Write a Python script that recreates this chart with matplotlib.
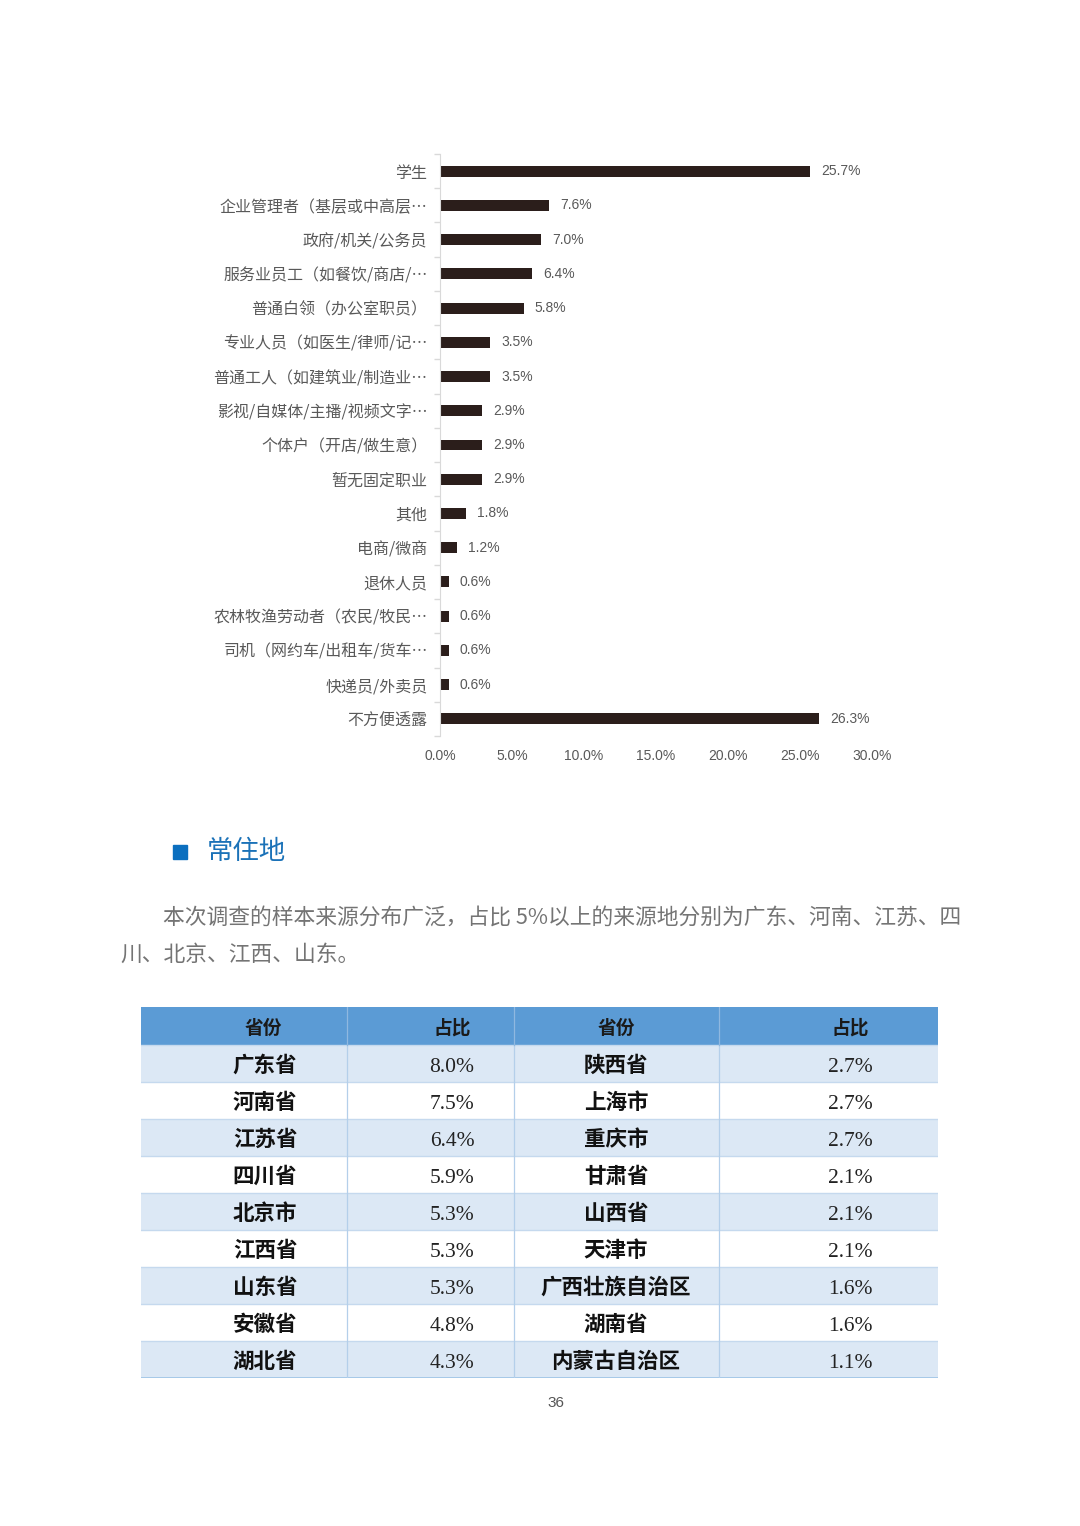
"""
Survey page: occupation bar chart + residence section with province table.
"""
import matplotlib
matplotlib.use("Agg")
import matplotlib.pyplot as plt
from matplotlib.patches import Rectangle
import numpy as np

plt.rcParams["font.family"] = ["Noto Sans CJK SC", "DejaVu Sans"]

# --------------------------------------------------------------------------- #
# Data
# --------------------------------------------------------------------------- #
occupations = [
    "学生",
    "企业管理者（基层或中高层…",
    "政府/机关/公务员",
    "服务业员工（如餐饮/商店/…",
    "普通白领（办公室职员）",
    "专业人员（如医生/律师/记…",
    "普通工人（如建筑业/制造业…",
    "影视/自媒体/主播/视频文字…",
    "个体户（开店/做生意）",
    "暂无固定职业",
    "其他",
    "电商/微商",
    "退休人员",
    "农林牧渔劳动者（农民/牧民…",
    "司机（网约车/出租车/货车…",
    "快递员/外卖员",
    "不方便透露",
]
occupation_share = [25.7, 7.6, 7.0, 6.4, 5.8, 3.5, 3.5, 2.9, 2.9, 2.9,
                    1.8, 1.2, 0.6, 0.6, 0.6, 0.6, 26.3]
x_ticks = [0, 5, 10, 15, 20, 25, 30]

heading = "常住地"
paragraph_lines = [
    "本次调查的样本来源分布广泛，占比 5%以上的来源地分别为广东、河南、江苏、四",
    "川、北京、江西、山东。",
]

table_header = ["省份", "占比", "省份", "占比"]
left_provinces = ["广东省", "河南省", "江苏省", "四川省", "北京市",
                  "江西省", "山东省", "安徽省", "湖北省"]
left_share = [8.0, 7.5, 6.4, 5.9, 5.3, 5.3, 5.3, 4.8, 4.3]
right_provinces = ["陕西省", "上海市", "重庆市", "甘肃省", "山西省",
                   "天津市", "广西壮族自治区", "湖南省", "内蒙古自治区"]
right_share = [2.7, 2.7, 2.7, 2.1, 2.1, 2.1, 1.6, 1.6, 1.1]
page_number = "36"

# --------------------------------------------------------------------------- #
# Layout helpers (pixel -> figure fraction)
# --------------------------------------------------------------------------- #
W, H = 1080, 1526
fig = plt.figure(figsize=(W / 100, H / 100), dpi=100)
fig.patch.set_facecolor("white")


def box(x0, y0, x1, y1):
    return [x0 / W, 1 - y1 / H, (x1 - x0) / W, (y1 - y0) / H]


def fx(x):
    return x / W


def fy(y):
    return 1 - y / H


GREY = "#595959"
NARROW = ["Liberation Sans Narrow", "Liberation Sans", "DejaVu Sans"]

# --------------------------------------------------------------------------- #
# Bar chart
# --------------------------------------------------------------------------- #
ax = fig.add_axes(box(440, 154, 872, 736))
ypos = np.arange(len(occupations))
ax.barh(ypos, occupation_share, height=0.32, color="#2b1e1b")
for y, v in zip(ypos, occupation_share):
    ax.annotate(f"{v:.1f}%", xy=(v, y), xytext=(8, 0), textcoords="offset points",
                va="center", ha="left", fontsize=10, color=GREY, family=NARROW)

ax.set_xlim(0, 30)
ax.set_ylim(len(occupations) - 0.5, -0.5)
ax.set_yticks(ypos)
ax.set_yticklabels(occupations, fontsize=11.5, color=GREY)
ax.set_yticks(np.arange(-0.5, len(occupations) + 0.5, 1), minor=True)
ax.tick_params(axis="y", which="major", length=0, pad=9)
ax.tick_params(axis="y", which="minor", length=4, color="#d9d9d9", width=1)
ax.set_xticks(x_ticks)
ax.set_xticklabels([f"{t:.1f}%" for t in x_ticks], family=NARROW,
                   fontsize=10, color=GREY)
ax.tick_params(axis="x", length=0, pad=9)
for s in ("top", "right", "bottom"):
    ax.spines[s].set_visible(False)
ax.spines["left"].set_color("#d9d9d9")

# --------------------------------------------------------------------------- #
# Heading + paragraph
# --------------------------------------------------------------------------- #
fig.patches.append(Rectangle((fx(173), fy(859)), 14 / W, 14 / H,
                             transform=fig.transFigure, color="#0b6fbf"))
fig.text(fx(207), fy(852), heading, fontsize=19, color="#1b72b8",
         va="center", ha="left")
fig.text(fx(163), fy(918), paragraph_lines[0], fontsize=15.7, color="#747474",
         va="center", ha="left")
fig.text(fx(120), fy(955), paragraph_lines[1], fontsize=15.7, color="#747474",
         va="center", ha="left")

# --------------------------------------------------------------------------- #
# Table
# --------------------------------------------------------------------------- #
tx0, tx1, ty0, ty1 = 141, 938, 1007, 1378
tax = fig.add_axes(box(tx0, ty0, tx1, ty1))
tax.set_xlim(0, tx1 - tx0)
tax.set_ylim(ty1 - ty0, 0)
tax.axis("off")

col_edges = [0, 206, 373, 578, 797]
header_h = 38
row_h = (ty1 - ty0 - header_h) / len(left_provinces)

tax.add_patch(Rectangle((0, 0), col_edges[-1], header_h, color="#5b9bd5", lw=0))
text_x = [122, 311, 475, 709]
for x, lab in zip(text_x, table_header):
    tax.text(x, header_h / 2 + 2, lab, ha="center", va="center", fontsize=13.5,
             fontweight="bold", color="#1a1a1a")

rows = list(zip(left_provinces, left_share, right_provinces, right_share))
for i, (lp, ls, rp, rs) in enumerate(rows):
    y0 = header_h + i * row_h
    if i % 2 == 0:
        tax.add_patch(Rectangle((0, y0), col_edges[-1], row_h,
                                color="#dce8f5", lw=0))
    yc = y0 + row_h / 2 + 2
    tax.text(124, yc, lp, ha="center", va="center", fontsize=15.5,
             fontweight="bold", color="#111111")
    tax.text(311, yc + 2, f"{ls:.1f}%", ha="center", va="center", fontsize=15.5,
             family="Liberation Serif", color="#222222")
    tax.text(475, yc, rp, ha="center", va="center", fontsize=15.5,
             fontweight="bold", color="#111111")
    tax.text(709, yc + 2, f"{rs:.1f}%", ha="center", va="center", fontsize=15.5,
             family="Liberation Serif", color="#222222")
    tax.plot([0, col_edges[-1]], [y0, y0], color="#c5d9ee", lw=1)

tax.plot([0, col_edges[-1]], [ty1 - ty0 - 0.5] * 2, color="#9dc3e6", lw=1.2)
for x in col_edges[1:-1]:
    tax.plot([x, x], [header_h, ty1 - ty0], color="#b4cfea", lw=0.9)
    tax.plot([x, x], [0, header_h], color="#8fb8e0", lw=0.9)

fig.text(fx(556), fy(1403), page_number, fontsize=11, color="#555555",
         ha="center", va="center", family=NARROW)

fig.savefig("out.png", dpi=100, facecolor="white")
